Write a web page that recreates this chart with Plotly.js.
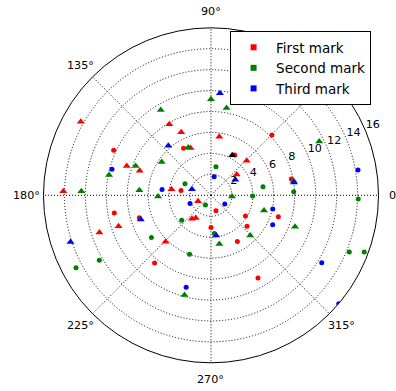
<!DOCTYPE html>
<html>
<head>
<meta charset="utf-8">
<script src="https://cdn.plot.ly/plotly-3.0.1.min.js"></script>
<style>
html,body{margin:0;padding:0;background:#fff;}
#chart{width:396px;height:391px;}
</style>
</head>
<body>
<div id="chart"></div>
<script>
// Series names
const seriesNames = ["First mark", "Second mark", "Third mark"];
const seriesColors = ["#ff0000", "#008000", "#0000ff"];

// First mark (red): circles
const firstCircR =     [10.24, 5.2, 2.9, 4.47, 8.19, 7.83, 1.55, 3.84, 6.75, 3.08, 4.53, 5.08, 9.09, 8.42, 9.39, 7.17];
const firstCircTheta = [155.2, 120.3, 170.9, 59.5, 44.7, 11.5, 288, 329, 342.4, 270, 319.4, 299.7, 299.6, 230.2, 190.3, 197.3];
// First mark (red): triangles
const firstTriR =     [14.29, 8.52, 7.2, 14.11, 7.86, 6.66, 4.92, 3.82, 5.64, 4.75, 3.16, 1.36, 2.88, 2.61, 11.23, 9.31, 6.21];
const firstTriTheta = [150.5, 160.8, 161, 178.4, 120.4, 115.3, 113.4, 171.2, 81.9, 44.1, 38.9, 204.4, 230.9, 236.2, 198.4, 198.5, 225.6];

// Second mark (green): circles
const secondCircR =     [2.72, 2.77, 5.03, 7.91, 3.98, 14.07, 1.07, 3.67, 3.66, 6.97, 5.99, 12.34, 14.63, 14.28, 15.61];
const secondCircTheta = [156, 80.1, 9.3, 2.5, 359, 358.6, 240.4, 220.4, 275, 215.3, 250, 210.2, 208.2, 337.7, 339.7];
// Second mark (green): triangles
const secondTriR =     [9.45, 9.93, 7.72, 12.39, 6.86, 5.06, 5.06, 5.68, 9.18, 8.47, 11.54, 8.02, 2.01, 5.27, 8.57, 5.36, 4.72, 9.85];
const secondTriTheta = [120.5, 168.7, 158.7, 178.2, 176, 181.3, 115.5, 146, 90, 79.9, 26.4, 9.8, 356.7, 344, 339.5, 314.3, 279.7, 255.1];

// Third mark (blue): circles
const thirdCircR =     [9.78, 4.71, 1.79, 14.25, 2.15, 1.56, 6.04, 6.53, 12.38, 9.1, 16.0];
const thirdCircTheta = [165.3, 173.2, 80.2, 9.8, 201.3, 327.8, 347.5, 334.5, 328.7, 254.9, 319.7];
// Third mark (blue): triangles
const thirdTriR =     [6.25, 1.91, 9.78, 2.75, 8.02, 3.87, 7.09, 14.14];
const thirdTriTheta = [130.7, 162.2, 85, 32.5, 8.8, 277.4, 199, 198.4];

// Extra black triangle
const blackTriR = [4.33];
const blackTriTheta = [62];

// Axis ticks
const radialMax = 16;
const radialTicks = [2, 4, 6, 8, 10, 12, 14, 16];
const radialLabelAngle = 22.5;
const angularTicks = [0, 45, 90, 135, 180, 225, 270, 315];
// the 45° label sits under the legend box in the reference, so it is not shown
const angularLabelled = [0, 90, 135, 180, 225, 270, 315];
const angularLabelFrac = 1.1;

function pts(r, th, color, symbol, size) {
  return {
    type: "scatterpolar", mode: "markers", r: r, theta: th,
    marker: {color: color, symbol: symbol, size: size, line: {width: 0}},
    showlegend: false, hoverinfo: "skip", cliponaxis: true
  };
}

const tickFont = {family: "DejaVu Sans", size: 11.2, color: "#000"};

const traces = [
  pts(firstCircR, firstCircTheta, seriesColors[0], "circle", 5),
  pts(firstTriR, firstTriTheta, seriesColors[0], "triangle-up", 7),
  pts(secondCircR, secondCircTheta, seriesColors[1], "circle", 5),
  pts(secondTriR, secondTriTheta, seriesColors[1], "triangle-up", 7),
  pts(thirdCircR, thirdCircTheta, seriesColors[2], "circle", 5),
  pts(thirdTriR, thirdTriTheta, seriesColors[2], "triangle-up", 7),
  pts(blackTriR, blackTriTheta, "#000000", "triangle-up", 7),
  // radial tick labels along 22.5 degrees
  {
    type: "scatterpolar", mode: "text",
    r: radialTicks, theta: radialTicks.map(() => radialLabelAngle),
    text: radialTicks.map(String), textposition: "top right",
    textfont: tickFont, cliponaxis: false, showlegend: false, hoverinfo: "skip",
    marker: {size: 1}
  }
];
// legend entries
seriesNames.forEach((n, i) => {
  traces.push({
    type: "scatterpolar", mode: "markers", r: [null], theta: [null],
    name: n, marker: {color: seriesColors[i], symbol: "square", size: 6},
    showlegend: true, hoverinfo: "skip"
  });
});

const W = 396, H = 391;
const polarDomain = {x: [0.1086, 0.957], y: [0.0721, 0.9289]};
const gridDash = "1px,2px";
const layout = {
  width: W, height: H,
  margin: {l: 0, r: 0, t: 0, b: 0},
  paper_bgcolor: "#fff",
  font: {family: "DejaVu Sans", size: 12, color: "#000"},
  showlegend: true,
  legend: {
    x: 0.581, y: 0.9207, xanchor: "left", yanchor: "top",
    bgcolor: "#fff", bordercolor: "#000", borderwidth: 1,
    font: {family: "DejaVu Sans", size: 13.5, color: "#000"},
    itemwidth: 35
  },
  polar: {
    domain: polarDomain,
    bgcolor: "#fff",
    radialaxis: {
      range: [0, radialMax], tickvals: radialTicks, angle: radialLabelAngle,
      showline: false, ticks: "", showticklabels: false,
      gridcolor: "#000", griddash: gridDash, gridwidth: 1
    },
    angularaxis: {
      rotation: 0, direction: "counterclockwise",
      tickvals: angularTicks, ticktext: angularTicks.map(a => a + "°"),
      showline: true, linecolor: "#000", linewidth: 1,
      ticks: "", showticklabels: false,
      gridcolor: "#000", griddash: gridDash, gridwidth: 1
    }
  }
};

const gd = document.getElementById("chart");
Plotly.newPlot(gd, traces, layout, {staticPlot: true, displayModeBar: false}).then(() => {
  // angular tick labels centred at 1.1 x outer radius (matplotlib placement),
  // using the polar subplot's own centre and radius
  const sp = gd._fullLayout.polar && gd._fullLayout.polar._subplot;
  let cx, cy, R;
  if (sp && isFinite(sp.cx) && isFinite(sp.radius)) {
    cx = sp.cx; cy = sp.cy; R = sp.radius;
  } else {
    const x0 = polarDomain.x[0] * W, x1 = polarDomain.x[1] * W;
    const y0 = (1 - polarDomain.y[1]) * H, y1 = (1 - polarDomain.y[0]) * H;
    R = Math.min(x1 - x0, y1 - y0) / 2; cx = (x0 + x1) / 2; cy = (y0 + y1) / 2;
  }
  const annotations = angularLabelled.map((a) => {
    const rad = a * Math.PI / 180;
    const px = cx + angularLabelFrac * R * Math.cos(rad);
    const py = cy - angularLabelFrac * R * Math.sin(rad);
    return {
      xref: "paper", yref: "paper", x: px / W, y: 1 - py / H,
      xanchor: "center", yanchor: "middle", showarrow: false,
      text: a + "°", font: tickFont, borderpad: 0
    };
  });
  return Plotly.relayout(gd, {annotations: annotations});
});
</script>
</body>
</html>
